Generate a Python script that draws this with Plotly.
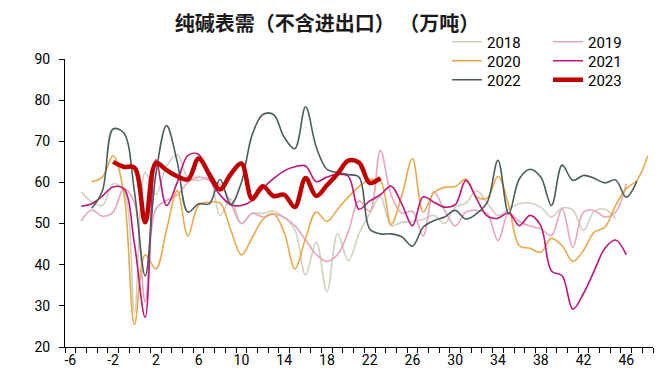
import plotly.graph_objects as go

# ---- data (weekly values, 万吨) ----
weeks_2018 = list(range(-5, 46))
vals_2018 = [57.7, 55.3, 54.4, 59.7, 58, 28.5, 62.5, 57, 64, 66.8,
             61, 60.5, 61, 52, 56, 50, 52.5, 52.5, 53, 51.5,
             48.5, 37.5, 45.5, 33.5, 47.5, 41, 47.5, 52.4, 56.5, 49.5,
             50.3, 50.5, 51, 52, 50, 54, 55, 58, 55, 52,
             53.5, 54.8, 55, 54, 51.6, 53.8, 53.3, 48.3, 53, 53.5,
             51.2]

weeks_2019 = list(range(-5, 47))
vals_2019 = [50.6, 53.3, 51.8, 52.8, 58.5, 55, 31, 53.6, 55.6, 57,
             60, 61.3, 60.5, 59.5, 55, 50, 52.5, 51.6, 52.3, 51.5,
             49.5, 46, 42.5, 40.8, 42.5, 48, 55.5, 53, 67.8, 57,
             52.5, 53, 47, 57.7, 53.2, 49.4, 52.8, 53.2, 52.4, 45.9,
             52.5, 50.5, 49.4, 48.7, 47.1, 53.6, 44.2, 52.8, 53.2, 51.6,
             52.8, 59.7]

weeks_2020 = list(range(-4, 49))
vals_2020 = [60.2, 61.3, 66.5, 57.5, 25.5, 42.4, 39, 48.5, 58, 47,
             54.5, 55.2, 55, 48.5, 42.4, 46.5, 51, 52.4, 47.9, 39,
             46.3, 52.8, 50.5, 53.5, 56.5, 59, 60.7, 60.3, 49.8, 56.8,
             65.8, 52.8, 57.5, 58.8, 59, 60.8, 56.5, 56.2, 61.5, 54.5,
             44.6, 44, 43, 46.4, 44.6, 40.8, 43.5, 47.9, 49.1, 54.4,
             58.5, 60.5, 66.4]

weeks_2021 = list(range(-5, 47))
vals_2021 = [54.2, 54.8, 56.7, 58.9, 58.5, 45, 27.2, 65.5, 54.4, 60,
             66.6, 66.8, 61, 57, 54.6, 54.4, 55.6, 58.5, 60.9, 62.8,
             63.8, 64, 60.2, 61.3, 62, 61.5, 53.5, 55.5, 57, 59.1,
             54.8, 49.5, 56.5, 55.2, 54, 54.6, 60.5, 56, 51.8, 51.3,
             52.6, 49.5, 52, 49.5, 38.5, 37.3, 29.2, 33, 38.5, 44,
             46, 42.4]

weeks_2022 = list(range(-4, 48))
vals_2022 = [53.7, 58, 73, 72, 57.7, 37.3, 62, 73.8, 65, 52.8,
             54.8, 54.8, 60.7, 54.6, 60, 71.5, 76.5, 76.5, 71, 68.2,
             78.4, 68.6, 63.2, 62.4, 61.9, 61.3, 48.7, 47.5, 47.5, 46.8,
             44.5, 49.1, 50.7, 51.6, 53.2, 51.1, 52.4, 55.2, 65.4, 52.4,
             60.9, 63.2, 61.3, 54.4, 64.2, 60.5, 61.7, 61, 59.9, 60.6,
             56.4, 60.3]

weeks_2023 = list(range(-2, 24))
vals_2023 = [65, 63.8, 63.6, 50.3, 64.7, 63, 61.5, 60.7, 65.8, 62,
             58.3, 62, 64.6, 56, 59.1, 56.7, 57, 54, 61.1, 56.7,
             59.3, 62.1, 65.3, 64.8, 59.9, 61.1]

x_tick_vals = list(range(-6, 47, 4))
y_tick_vals = [20, 30, 40, 50, 60, 70, 80, 90]

series = [
    ("2018", weeks_2018, vals_2018, "#D0D0C1", 1.6, "legend"),
    ("2019", weeks_2019, vals_2019, "#E6A6B9", 1.6, "legend"),
    ("2020", weeks_2020, vals_2020, "#E9A94B", 1.6, "legend2"),
    ("2021", weeks_2021, vals_2021, "#BF1479", 1.6, "legend2"),
    ("2022", weeks_2022, vals_2022, "#4C5D59", 1.6, "legend3"),
    ("2023", weeks_2023, vals_2023, "#C00000", 4.5, "legend3"),
]

fig = go.Figure()
for name, wk, vals, color, width, lg in series:
    fig.add_trace(go.Scatter(
        x=wk, y=vals, name=name, mode="lines",
        line=dict(color=color, width=width, shape="spline", smoothing=1.0),
        legend=lg, hoverinfo="skip",
    ))

legend_font = dict(family="Roboto, Noto Sans, sans-serif", size=15, color="black")
common_legend = dict(orientation="h", xref="container", yref="container",
                     xanchor="left", yanchor="middle", font=legend_font,
                     entrywidth=56, entrywidthmode="pixels",
                     bgcolor="rgba(0,0,0,0)", itemwidth=30, tracegroupgap=0)
rows_y = [34, 53, 72]
fig.update_layout(
    width=671, height=376,
    margin=dict(l=57, r=26, t=51, b=37, autoexpand=False),
    plot_bgcolor="white", paper_bgcolor="white",
    title=dict(text="<b>纯碱表需（不含进出口） （万吨）</b>",
               x=319 / 671, xref="container", xanchor="center",
               y=1 - 16 / 376, yref="container", yanchor="middle",
               font=dict(family="Noto Sans CJK SC", size=20, color="#1a1a1a")),
    legend=dict(x=439 / 671, y=1 - rows_y[0] / 376, **common_legend),
    legend2=dict(x=439 / 671, y=1 - rows_y[1] / 376, **common_legend),
    legend3=dict(x=439 / 671, y=1 - rows_y[2] / 376, **common_legend),
    showlegend=True,
)
fig.update_xaxes(
    range=[-6.5, 48.5], tickmode="array", tickvals=x_tick_vals,
    ticktext=[str(v) for v in x_tick_vals], ticks="", showgrid=False,
    zeroline=False, showline=True, linecolor="black", linewidth=1,
    tickfont=dict(family="Roboto, Noto Sans, sans-serif", size=14, color="black"),
    minor=dict(tickmode="linear", tick0=-6.5, dtick=1, ticks="outside",
               ticklen=5, tickcolor="black", tickwidth=1, showgrid=False),
)
fig.update_yaxes(
    range=[20, 90], tickmode="array", tickvals=y_tick_vals,
    ticks="outside", ticklen=5, tickcolor="black", showgrid=False,
    zeroline=False, showline=True, linecolor="black", linewidth=1,
    ticklabelstandoff=6,
    tickfont=dict(family="Roboto, Noto Sans, sans-serif", size=14, color="black"),
)
fig.write_html("out.html")
